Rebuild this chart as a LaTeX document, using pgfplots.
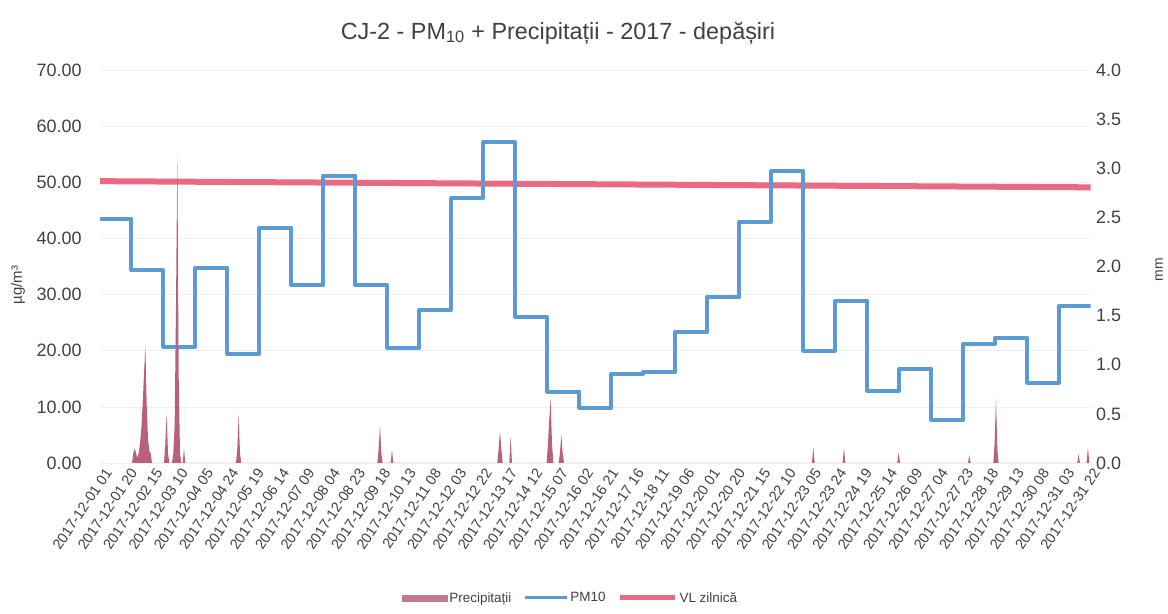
\documentclass[border=0pt]{standalone}
\usepackage{pgfplots}
\pgfplotsset{compat=1.18}
\usepackage{fontspec}
\setmainfont{Liberation Sans}
\definecolor{pmblue}{HTML}{5B9BD5}
\definecolor{vlred}{HTML}{EA6A83}
\definecolor{precip}{HTML}{B8607E}
\definecolor{txt}{HTML}{404040}

\begin{document}
\begin{tikzpicture}[x=1bp,y=1bp]
\useasboundingbox (0,0) rectangle (1168,614);
\begin{axis}[
  at={(100bp,151bp)}, anchor=south west,
  scale only axis, width=990.6bp, height=393bp,
  xmin=1, xmax=744, ymin=0, ymax=70,
  ytick={0,10,...,70},
  axis line style={draw=none},
  major tick length=0pt,
  ymajorgrids, grid style={color=gray!12, line width=0.6bp},
  yticklabel style={font=\fontsize{18}{18}\selectfont, text=txt, xshift=-15bp,
    /pgf/number format/fixed, /pgf/number format/fixed zerofill, /pgf/number format/precision=2, /pgf/number format/assume math mode=true},
  xtick={1,20,...,742},
  xticklabels={2017-12-01 01,2017-12-01 20,2017-12-02 15,2017-12-03 10,2017-12-04 05,2017-12-04 24,2017-12-05 19,2017-12-06 14,2017-12-07 09,2017-12-08 04,2017-12-08 23,2017-12-09 18,2017-12-10 13,2017-12-11 08,2017-12-12 03,2017-12-12 22,2017-12-13 17,2017-12-14 12,2017-12-15 07,2017-12-16 02,2017-12-16 21,2017-12-17 16,2017-12-18 11,2017-12-19 06,2017-12-20 01,2017-12-20 20,2017-12-21 15,2017-12-22 10,2017-12-23 05,2017-12-23 24,2017-12-24 19,2017-12-25 14,2017-12-26 09,2017-12-27 04,2017-12-27 23,2017-12-28 18,2017-12-29 13,2017-12-30 08,2017-12-31 03,2017-12-31 22},
  xticklabel style={font=\fontsize{14.5}{14.5}\selectfont, text=txt, rotate=56, anchor=east, inner sep=1bp, yshift=-11bp},
  legend style={at={(0.475,-0.3435)}, anchor=center, draw=none, fill=none, legend columns=3,
    font=\fontsize{13.5}{13.5}\selectfont, text=txt,
    /tikz/every even column/.append style={column sep=10bp}},
  legend cell align=left,
]
\addlegendimage{legend image code/.code={\fill[precip!85] (0bp,-3bp) rectangle (45bp,3bp);}}
\addlegendentry{Precipitații}
\addlegendimage{legend image code/.code={\draw[pmblue,line width=3bp] (0bp,0bp) -- (42bp,0bp);}}
\addlegendentry{PM10}
\addlegendimage{legend image code/.code={\draw[vlred,line width=5bp] (0bp,0bp) -- (55bp,0bp);}}
\addlegendentry{VL zilnică}

\addplot[forget plot, vlred, line width=6bp] coordinates {(1,50.2) (744,49.1)};
\addplot[forget plot, const plot, pmblue, line width=4bp, line join=round] coordinates {
(1,43.5) (24.5,34.4) (48.5,20.7) (72.5,34.8) (96.5,19.4) (120.5,41.9) (144.5,31.7) (168.5,51.2)
(192.5,31.7) (216.5,20.5) (240.5,27.3) (264.5,47.2) (288.5,57.2) (312.5,26.0) (336.5,12.7)
(360.5,9.8) (384.5,15.9) (408.5,16.2) (432.5,23.4) (456.5,29.6) (480.5,43.0) (504.5,52.0)
(528.5,20.0) (552.5,28.9) (576.5,12.8) (600.5,16.8) (624.5,7.7) (648.5,21.2) (672.5,22.3)
(696.5,14.3) (720.5,28.0) (744,28.0)};
\end{axis}

\begin{axis}[
  at={(100bp,151bp)}, anchor=south west,
  scale only axis, width=990.6bp, height=393bp,
  xmin=1, xmax=744, ymin=0, ymax=4,
  axis y line*=right, axis x line=none,
  axis line style={draw=none},
  major tick length=0pt,
  ytick={0,0.5,...,4},
  yticklabel style={font=\fontsize{18}{18}\selectfont, text=txt, xshift=2bp,
    /pgf/number format/fixed, /pgf/number format/fixed zerofill, /pgf/number format/precision=1, /pgf/number format/assume math mode=true},
]
\addplot[fill=precip, draw=none] coordinates {
(25,0)(26,0.1)(27,0.15)(28,0.1)(29,0.05)(30,0.1)(31,0.2)(32,0.35)(33,0.6)(34,0.9)(35,1.2)(36,0.6)(37,0.25)(38,0.12)(39,0.1)(40,0)
(49,0)(50,0.2)(51,0.5)(52,0.1)(53,0)
(55,0)(56,0.1)(57,0.4)(58,1.6)(59,3.15)(60,0.9)(61,0.1)(62,0)
(63,0)(64,0.15)(65,0)
(103,0)(104,0.15)(105,0.5)(106,0.1)(107,0)
(209,0)(210,0.15)(211,0.38)(212,0.1)(213,0)
(219,0)(220,0.13)(221,0)
(299,0)(300,0.15)(301,0.32)(302,0.15)(303,0)
(308,0)(309,0.27)(310,0)
(336,0)(337,0.2)(338,0.45)(339,0.66)(340,0.2)(341,0)
(345,0)(346,0.1)(347,0.29)(348,0.1)(349,0)
(535,0)(536,0.16)(537,0)
(558,0)(559,0.16)(560,0)
(599,0)(600,0.11)(601,0)
(652,0)(653,0.08)(654,0)
(671,0)(672,0.2)(673,0.66)(674,0.15)(675,0)
(734,0)(735,0.09)(736,0)
(741,0)(742,0.16)(743,0)} \closedcycle;
\end{axis}

\node[text=txt, font=\fontsize{23.5}{23.5}\selectfont] at (558,581) {CJ-2 - PM\textsubscript{10} + Precipitații - 2017 - depășiri};
\node[text=txt, font=\fontsize{15}{15}\selectfont, rotate=90] at (18,329) {µg/m³};
\node[text=txt, font=\fontsize{14}{14}\selectfont, rotate=90] at (1159,344) {mm};
\end{tikzpicture}
\end{document}
